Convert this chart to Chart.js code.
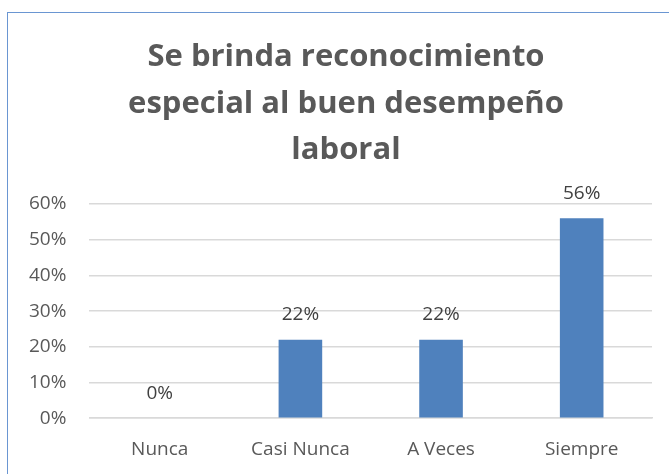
<!DOCTYPE html>
<html>
<head>
<meta charset="utf-8">
<script src="https://cdn.jsdelivr.net/npm/chart.js@4"></script>
<style>
  html, body { margin: 0; padding: 0; background: #fff; overflow: hidden; }
  #frame {
    position: absolute; left: 7px; top: 12px; width: 700px; height: 500px;
    border: 1.5px solid #6a96d2; box-sizing: border-box;
  }
  #wrap { position: absolute; left: 0; top: 0; width: 669px; height: 481px; }
</style>
</head>
<body>
<div id="frame"></div>
<div id="wrap"><canvas id="chart"></canvas></div>
<script>
// Chart data
const categories = ['Nunca', 'Casi Nunca', 'A Veces', 'Siempre'];
const values = [0, 0.22, 0.22, 0.56];
const titleLines = ['Se brinda reconocimiento', 'especial al buen desempeño', 'laboral'];

const textColor = '#595959';
const font = "'Open Sans', 'Noto Sans', sans-serif";

// Draw the title and the value labels above the bars
const labelPlugin = {
    id: 'labels',
    afterDatasetsDraw(chart) {
        const ctx = chart.ctx;
        ctx.save();
        ctx.fillStyle = textColor;
        ctx.textAlign = 'center';
        ctx.textBaseline = 'middle';
        ctx.font = 'bold 31px ' + font;
        const ys = [57, 104, 150];
        titleLines.forEach((t, i) => ctx.fillText(t, 346, ys[i]));

        ctx.fillStyle = '#404040';
        ctx.font = '19px ' + font;
        const meta = chart.getDatasetMeta(0);
        meta.data.forEach((bar, i) => {
            ctx.fillText(Math.round(values[i] * 100) + '%', bar.x, bar.y - 25);
        });
        ctx.restore();
    }
};

const ctx = document.getElementById('chart').getContext('2d');
new Chart(ctx, {
    type: 'bar',
    data: {
        labels: categories,
        datasets: [{
            data: values,
            backgroundColor: '#4f81bd',
            categoryPercentage: 1,
            barPercentage: 0.31
        }]
    },
    options: {
        responsive: true,
        maintainAspectRatio: false,
        animation: false,
        layout: { padding: { left: 6, right: 17, top: 204, bottom: 0 } },
        plugins: {
            legend: { display: false },
            title: { display: false },
            tooltip: { enabled: false }
        },
        scales: {
            x: {
                grid: { display: false, drawTicks: false },
                border: { color: '#d9d9d9', width: 1.5 },
                ticks: { color: textColor, font: { family: font, size: 19 }, padding: 20 }
            },
            y: {
                min: 0,
                max: 0.6,
                grid: { color: '#d9d9d9', lineWidth: 1.5, drawTicks: false },
                border: { display: false },
                ticks: {
                    stepSize: 0.1,
                    color: textColor,
                    font: { family: font, size: 19 },
                    padding: 23,
                    callback: v => Math.round(v * 100) + '%'
                }
            }
        }
    },
    plugins: [labelPlugin]
});
</script>
</body>
</html>
